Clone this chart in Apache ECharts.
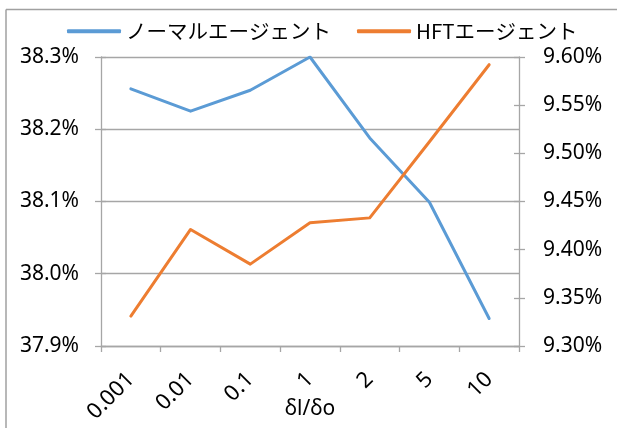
<!DOCTYPE html>
<html>
<head>
<meta charset="utf-8">
<script src="https://cdn.jsdelivr.net/npm/echarts@6/dist/echarts.min.js"></script>
<style>
  html, body { margin: 0; padding: 0; background: #fff; }
  #chart { width: 617px; height: 428px; }
</style>
</head>
<body>
<div id="chart"></div>
<script>
// δl/δo ratio categories
const categories = ['0.001', '0.01', '0.1', '1', '2', '5', '10'];
// share of normal agents (%), left axis
const normalAgent = [38.256, 38.225, 38.254, 38.300, 38.188, 38.099, 37.938];
// share of HFT agents (%), right axis
const hftAgent = [9.331, 9.421, 9.385, 9.428, 9.433, 9.512, 9.592];
const seriesNames = ['ノーマルエージェント', 'HFTエージェント'];

const latin = '"Noto Sans", "Noto Sans CJK JP", sans-serif';
const cjk = '"Noto Sans CJK JP", "Noto Sans", sans-serif';
const gray = '#a6a6a6';

// short inner ticks so the value-axis ticks cross the axis line
function innerTicks(position, min, max, interval) {
  return {
    type: 'value', position, min, max, interval,
    axisLine: { show: false },
    axisTick: { show: true, inside: true, length: 5, lineStyle: { color: gray, width: 1.3 } },
    axisLabel: { show: false },
    splitLine: { show: false }
  };
}

const chart = echarts.init(document.getElementById('chart'), null, { renderer: 'canvas' });
chart.setOption({
  animation: false,
  backgroundColor: '#fff',
  color: ['#5B9BD5', '#ED7D31'],
  legend: {
    left: 62,
    top: 16,
    itemWidth: 54,
    itemHeight: 4,
    itemGap: 26,
    icon: 'roundRect',
    textStyle: { fontFamily: cjk, fontSize: 20.5, color: '#000' },
    data: seriesNames
  },
  grid: { left: 101, right: 98, top: 57, bottom: 82 },
  xAxis: {
    type: 'category',
    data: categories,
    boundaryGap: true,
    name: 'δl/δo',
    nameLocation: 'middle',
    nameGap: 53,
    nameMoveOverlap: false,
    nameTextStyle: { fontFamily: latin, fontSize: 21, color: '#000' },
    axisLine: { lineStyle: { color: gray, width: 1.3 } },
    axisTick: { show: true, length: 6, lineStyle: { color: gray, width: 1.3 } },
    axisLabel: { rotate: 45, margin: 30, fontFamily: latin, fontSize: 22, color: '#000' }
  },
  yAxis: [
    {
      type: 'value',
      position: 'left',
      min: 37.9, max: 38.3, interval: 0.1,
      axisLine: { show: true, lineStyle: { color: gray, width: 1.3 } },
      axisTick: { show: true, length: 6, lineStyle: { color: gray, width: 1.3 } },
      splitLine: { show: true, lineStyle: { color: gray, width: 1.3 } },
      axisLabel: {
        margin: 22, fontFamily: latin, fontSize: 21, color: '#000',
        formatter: v => v.toFixed(1) + '%'
      }
    },
    {
      type: 'value',
      position: 'right',
      min: 9.30, max: 9.60, interval: 0.05,
      axisLine: { show: true, lineStyle: { color: gray, width: 1.3 } },
      axisTick: { show: true, length: 6, lineStyle: { color: gray, width: 1.3 } },
      splitLine: { show: false },
      axisLabel: {
        margin: 24, fontFamily: latin, fontSize: 21, color: '#000',
        formatter: v => v.toFixed(2) + '%'
      }
    },
    innerTicks('left', 37.9, 38.3, 0.1),
    innerTicks('right', 9.30, 9.60, 0.05)
  ],
  series: [
    {
      name: seriesNames[0],
      type: 'line',
      yAxisIndex: 0,
      data: normalAgent,
      symbol: 'none',
      lineStyle: { width: 3, cap: 'round', join: 'round' }
    },
    {
      name: seriesNames[1],
      type: 'line',
      yAxisIndex: 1,
      data: hftAgent,
      symbol: 'none',
      lineStyle: { width: 3, cap: 'round', join: 'round' }
    }
  ],
  graphic: [
    // chart area frame (top and left edges)
    { type: 'line', shape: { x1: 6, y1: 9.5, x2: 617, y2: 9.5 }, style: { stroke: '#a0a0a0', lineWidth: 1.5 } },
    { type: 'line', shape: { x1: 6, y1: 9.5, x2: 6, y2: 428 }, style: { stroke: '#a0a0a0', lineWidth: 1.5 } }
  ]
});
</script>
</body>
</html>
